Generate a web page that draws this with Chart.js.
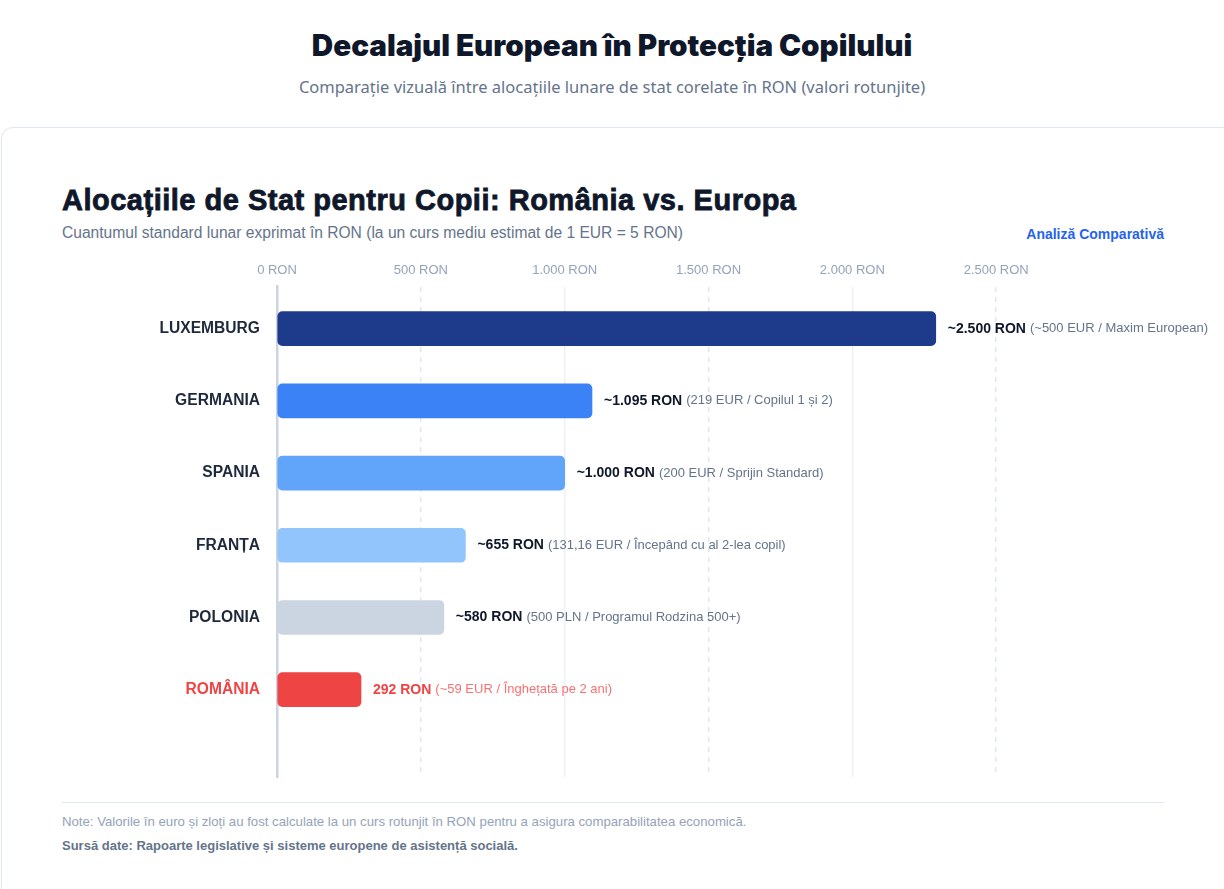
<!DOCTYPE html>
<html lang="ro">
<head>
<meta charset="utf-8">
<title>Decalajul European în Protecția Copilului</title>
<script src="https://cdn.jsdelivr.net/npm/chart.js@4.4.1/dist/chart.umd.min.js"></script>
<style>
	html, body { margin: 0; padding: 0; background: #ffffff; }
	body { width: 1224px; height: 889px; position: relative; overflow: hidden; font-family: "Liberation Sans", Arial, sans-serif; }
	.hdr-title { position: absolute; left: 0; width: 1224px; top: 24px; text-align: center; margin: 0;
		font-family: Inter, "Noto Sans", sans-serif; font-weight: 900; font-size: 29.6px; line-height: 42px; color: #0f172a; }
	.hdr-sub { position: absolute; left: 0; width: 1224px; top: 75px; text-align: center; margin: 0;
		font-family: "Noto Sans", sans-serif; font-size: 16.5px; line-height: 24px; color: #64748b; }
	.card { position: absolute; left: 1px; top: 127px; width: 1240px; height: 800px; background: #fff;
		border: 1px solid #e2e8f0; border-radius: 12px; box-shadow: 0 1px 3px rgba(15,23,42,0.05); }
	.c-title { position: absolute; left: 62px; top: 182px; margin: 0; font-size: 29px; font-weight: 700; line-height: 36px;
		letter-spacing: 0.5px; color: #0f172a; -webkit-text-stroke: 0.8px #0f172a; }
	.c-sub { position: absolute; left: 62px; top: 224px; font-size: 15.6px; line-height: 18px; color: #64748b; }
	.c-tag { position: absolute; right: 60px; top: 226px; font-size: 14px; font-weight: 700; line-height: 16px; color: #2563eb; }
	.chart-box { position: absolute; left: 62px; top: 255px; width: 1162px; height: 540px; }
	.divider { position: absolute; left: 62px; top: 802px; width: 1102px; height: 1px; background: #e2e8f0; }
	.note { position: absolute; left: 62px; top: 814px; font-size: 13.2px; line-height: 15px; color: #94a3b8; }
	.src { position: absolute; left: 62px; top: 838px; font-size: 13px; font-weight: 700; line-height: 15px; color: #64748b; }
</style>
</head>
<body>
<h1 class="hdr-title">Decalajul European în Protecția Copilului</h1>
<p class="hdr-sub">Comparație vizuală între alocațiile lunare de stat corelate în RON (valori rotunjite)</p>
<div class="card"></div>
<h2 class="c-title">Alocațiile de Stat pentru Copii: România vs. Europa</h2>
<div class="c-sub">Cuantumul standard lunar exprimat în RON (la un curs mediu estimat de 1 EUR = 5 RON)</div>
<div class="c-tag">Analiză Comparativă</div>
<div class="chart-box"><canvas id="allowanceChart"></canvas></div>
<div class="divider"></div>
<div class="note">Note: Valorile în euro și zloți au fost calculate la un curs rotunjit în RON pentru a asigura comparabilitatea economică.</div>
<div class="src">Sursă date: Rapoarte legislative și sisteme europene de asistență socială.</div>

<script>
// tari, valori lunare (RON), etichete
const countries = ["LUXEMBURG", "GERMANIA", "SPANIA", "FRANȚA", "POLONIA", "ROMÂNIA"];
const amountsRon = [2290, 1095, 1000, 655, 580, 292];
const amountLabels = ["~2.500 RON", "~1.095 RON", "~1.000 RON", "~655 RON", "~580 RON", "292 RON"];
const amountNotes = ["(~500 EUR / Maxim European)", "(219 EUR / Copilul 1 și 2)", "(200 EUR / Sprijin Standard)",
	"(131,16 EUR / Începând cu al 2-lea copil)", "(500 PLN / Programul Rodzina 500+)", "(~59 EUR / Înghețată pe 2 ani)"];
const barColors = ["#1e3a8a", "#3b82f6", "#60a5fa", "#93c5fd", "#cbd5e1", "#ef4444"];
const xTicks = [0, 500, 1000, 1500, 2000, 2500];

const HIGHLIGHT = "ROMÂNIA";

function fmtRon(v) {
	return v.toString().replace(/\B(?=(\d{3})+(?!\d))/g, ".") + " RON";
}

// text dupa capatul fiecarei bare
const valueLabelPlugin = {
	id: 'valueLabels',
	afterDatasetsDraw(chart) {
		const ctx = chart.ctx;
		const meta = chart.getDatasetMeta(0);
		ctx.save();
		ctx.textBaseline = 'middle';
		meta.data.forEach(function (bar, i) {
			let hot = countries[i] === HIGHLIGHT;
			let x = bar.x + 12;
			ctx.font = 'bold 14px "Liberation Sans", Arial, sans-serif';
			ctx.fillStyle = hot ? '#ef4444' : '#0f172a';
			ctx.fillText(amountLabels[i], x, bar.y);
			x += ctx.measureText(amountLabels[i]).width + 4;
			ctx.font = '13px "Liberation Sans", Arial, sans-serif';
			ctx.fillStyle = hot ? '#f87171' : '#64748b';
			ctx.fillText(amountNotes[i], x, bar.y);
		});
		ctx.restore();
	}
};

let points = [];
amountsRon.forEach(function (v, i) {
	points.push({ x: v, y: i });
});

const ctx = document.getElementById('allowanceChart').getContext('2d');
const chart = new Chart(ctx, {
	type: 'bar',
	data: {
		datasets: [{
			data: points,
			backgroundColor: barColors,
			borderRadius: 5,
			borderSkipped: false,
			barThickness: 34
		}]
	},
	options: {
		indexAxis: 'y',
		responsive: true,
		maintainAspectRatio: false,
		animation: false,
		layout: { padding: { top: 0, right: 84, bottom: 18, left: 0 } },
		plugins: {
			legend: { display: false },
			tooltip: { enabled: false }
		},
		scales: {
			x: {
				type: 'linear',
				position: 'top',
				min: 0,
				max: 3000,
				bounds: 'data',
				afterBuildTicks: function (scale) {
					scale.ticks = xTicks.map(function (v) { return { value: v }; });
				},
				ticks: {
					color: '#94a3b8',
					padding: 8,
					font: { family: '"Liberation Sans", Arial, sans-serif', size: 13 },
					callback: function (v) { return fmtRon(v); }
				},
				grid: {
					drawTicks: false,
					lineWidth: 1.5,
					color: function (c) {
						if (!c.tick || c.tick.value === 0) return 'rgba(0,0,0,0)';
						return c.tick.value % 1000 === 0 ? '#eef2f7' : '#e2e8f0';
					}
				},
				border: {
					display: false,
					dash: function (c) {
						return (c.tick && c.tick.value % 1000 === 500) ? [5, 5] : [];
					}
				}
			},
			y: {
				type: 'linear',
				reverse: true,
				offset: false,
				bounds: 'data',
				min: -0.583,
				max: 6.21,
				afterBuildTicks: function (scale) {
					scale.ticks = countries.map(function (c, i) { return { value: i }; });
				},
				afterFit: function (scale) {
					scale.width = 215;
					scale.paddingTop = 0;
					scale.paddingBottom = 0;
				},
				ticks: {
					padding: 17,
					color: function (c) { return countries[c.tick.value] === HIGHLIGHT ? '#ef4444' : '#1e293b'; },
					font: { family: '"Liberation Sans", Arial, sans-serif', size: 15.6, weight: 'bold' },
					callback: function (v) { return countries[v] || ''; }
				},
				grid: { display: false, drawTicks: false, offset: false },
				border: { display: true, color: '#cbd5e1', width: 2.5 }
			}
		}
	},
	plugins: [valueLabelPlugin]
});
</script>
</body>
</html>
